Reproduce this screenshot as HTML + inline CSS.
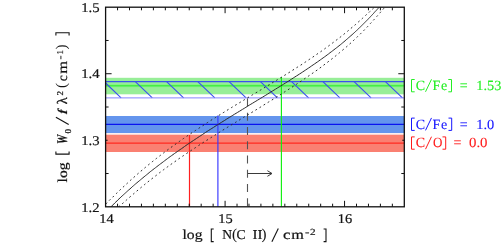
<!DOCTYPE html>
<html><head><meta charset="utf-8">
<style>
html,body{margin:0;padding:0;background:#fff;}
svg{display:block;}
text{font-family:"Liberation Serif",serif;text-rendering:geometricPrecision;}
</style></head>
<body>
<svg width="503" height="245" viewBox="0 0 503 245">
<rect width="503" height="245" fill="#fff"/>
<!-- bands -->
<rect x="105.6" y="77.8" width="298.70000000000005" height="16.5" fill="#98ee98"/>
<rect x="105.6" y="84.3" width="298.70000000000005" height="2.9" fill="#84f084"/><rect x="105.6" y="85.0" width="298.70000000000005" height="1.5" fill="#44f044"/>
<rect x="105.6" y="116" width="298.70000000000005" height="17.1" fill="#6495ed"/>
<rect x="105.6" y="133.1" width="298.70000000000005" height="1.6" fill="#fcefee"/>
<rect x="105.6" y="134.7" width="298.70000000000005" height="17.3" fill="#fa8072"/>
<line x1="105.6" x2="404.3" y1="124.4" y2="124.4" stroke="#0a14f0" stroke-width="1.2"/>
<line x1="105.6" x2="404.3" y1="143.1" y2="143.1" stroke="#ff2a20" stroke-width="1.2"/>
<!-- hatch -->
<g stroke="#3a50f0" stroke-width="1.1" fill="none">
<line x1="105.6" x2="404.3" y1="81.6" y2="81.6"/>
<path d="M105.6,83.0 L121.1,97.9 M135.3,81.6 L152.3,97.9 M166.6,81.6 L183.6,97.9 M197.8,81.6 L214.8,97.9 M229.1,81.6 L246.1,97.9 M260.4,81.6 L277.4,97.9 M291.6,81.6 L308.6,97.9 M322.9,81.6 L339.9,97.9 M354.1,81.6 L371.1,97.9 M385.4,81.6 L402.4,97.9"/>
</g>
<line x1="105.6" x2="404.3" y1="97.9" y2="97.9" stroke="#8484ff" stroke-width="1"/>
<!-- vertical lines -->
<line x1="189.5" x2="189.5" y1="135" y2="206.8" stroke="#ff2020" stroke-width="1.2"/>
<line x1="217.9" x2="217.9" y1="115.6" y2="206.8" stroke="#3838ff" stroke-width="1.15"/>
<line x1="281.4" x2="281.4" y1="77" y2="206.8" stroke="#10f010" stroke-width="1.15"/>
<line x1="247.5" x2="247.5" y1="98.4" y2="206.8" stroke="#555" stroke-width="1.1" stroke-dasharray="8 6.25"/>
<!-- arrow -->
<path d="M247.8,173.5 H272 M267.4,170.7 L272,173.5 L267.4,176.3" stroke="#3a3a3a" stroke-width="1" fill="none"/>
<!-- curves -->
<clipPath id="cp"><rect x="105.6" y="7.2" width="298.70000000000005" height="199.60000000000002"/></clipPath>
<g clip-path="url(#cp)">
<path d="M110.8,207.0 L111.8,206.0 L112.8,205.0 L113.8,204.0 L114.8,203.0 L115.9,202.0 L116.9,201.0 L117.9,199.9 L119.0,198.9 L120.1,197.9 L121.1,196.9 L122.2,195.9 L123.3,194.9 L124.4,193.9 L125.5,192.9 L126.6,191.9 L127.7,190.9 L128.8,189.9 L130.0,188.9 L131.1,187.9 L132.2,186.8 L133.4,185.8 L134.5,184.8 L135.7,183.8 L136.9,182.8 L138.1,181.8 L139.3,180.8 L140.5,179.8 L141.7,178.8 L142.9,177.8 L144.1,176.8 L145.3,175.8 L146.6,174.8 L147.8,173.8 L149.1,172.7 L150.3,171.7 L151.6,170.7 L152.9,169.7 L154.2,168.7 L155.5,167.7 L156.8,166.7 L158.1,165.7 L159.4,164.7 L160.7,163.7 L162.1,162.7 L163.4,161.7 L164.7,160.7 L166.1,159.6 L167.5,158.6 L168.8,157.6 L170.2,156.6 L171.6,155.6 L173.0,154.6 L174.4,153.6 L175.8,152.6 L177.2,151.6 L178.7,150.6 L180.1,149.6 L181.6,148.6 L183.0,147.6 L184.5,146.5 L185.9,145.5 L187.4,144.5 L188.9,143.5 L190.4,142.5 L191.9,141.5 L193.4,140.5 L194.9,139.5 L196.4,138.5 L197.9,137.5 L199.4,136.5 L201.0,135.5 L202.5,134.5 L204.1,133.4 L205.6,132.4 L207.2,131.4 L208.7,130.4 L210.3,129.4 L211.9,128.4 L213.5,127.4 L215.0,126.4 L216.6,125.4 L218.2,124.4 L219.8,123.4 L221.4,122.4 L223.0,121.4 L224.7,120.4 L226.3,119.3 L227.9,118.3 L229.5,117.3 L231.2,116.3 L232.8,115.3 L234.4,114.3 L236.1,113.3 L237.7,112.3 L239.4,111.3 L241.0,110.3 L242.6,109.3 L244.3,108.3 L245.9,107.3 L247.6,106.2 L249.2,105.2 L250.9,104.2 L252.6,103.2 L254.2,102.2 L255.9,101.2 L257.5,100.2 L259.2,99.2 L260.8,98.2 L262.5,97.2 L264.1,96.2 L265.8,95.2 L267.4,94.2 L269.1,93.1 L270.7,92.1 L272.3,91.1 L274.0,90.1 L275.6,89.1 L277.2,88.1 L278.9,87.1 L280.5,86.1 L282.1,85.1 L283.7,84.1 L285.3,83.1 L286.9,82.1 L288.5,81.1 L290.1,80.1 L291.7,79.0 L293.3,78.0 L294.8,77.0 L296.4,76.0 L298.0,75.0 L299.5,74.0 L301.1,73.0 L302.6,72.0 L304.1,71.0 L305.6,70.0 L307.1,69.0 L308.6,68.0 L310.1,67.0 L311.6,65.9 L313.1,64.9 L314.6,63.9 L316.0,62.9 L317.5,61.9 L318.9,60.9 L320.3,59.9 L321.7,58.9 L323.1,57.9 L324.5,56.9 L325.9,55.9 L327.2,54.9 L328.6,53.9 L329.9,52.8 L331.3,51.8 L332.6,50.8 L333.9,49.8 L335.2,48.8 L336.5,47.8 L337.8,46.8 L339.0,45.8 L340.3,44.8 L341.5,43.8 L342.7,42.8 L343.9,41.8 L345.1,40.8 L346.3,39.7 L347.5,38.7 L348.6,37.7 L349.8,36.7 L350.9,35.7 L352.1,34.7 L353.2,33.7 L354.3,32.7 L355.4,31.7 L356.4,30.7 L357.5,29.7 L358.6,28.7 L359.6,27.7 L360.6,26.7 L361.7,25.6 L362.7,24.6 L363.7,23.6 L364.7,22.6 L365.7,21.6 L366.7,20.6 L367.7,19.6 L368.6,18.6 L369.6,17.6 L370.5,16.6 L371.5,15.6 L372.4,14.6 L373.4,13.6 L374.3,12.5 L375.2,11.5 L376.2,10.5 L377.1,9.5 L378.0,8.5 L379.0,7.5 L379.9,6.5" stroke="#2a2a2a" stroke-width="1" fill="none"/>
<path d="M105.8,204.0 L106.7,203.0 L107.7,202.0 L108.7,201.0 L109.7,200.0 L110.7,199.0 L111.7,198.0 L112.8,197.1 L113.8,196.1 L114.8,195.1 L115.8,194.1 L116.8,193.1 L117.9,192.1 L118.9,191.1 L119.9,190.1 L121.0,189.1 L122.0,188.1 L123.1,187.1 L124.2,186.1 L125.2,185.1 L126.3,184.2 L127.4,183.2 L128.5,182.2 L129.5,181.2 L130.6,180.2 L131.7,179.2 L132.9,178.2 L134.0,177.2 L135.1,176.2 L136.2,175.2 L137.4,174.2 L138.5,173.2 L139.7,172.2 L140.8,171.2 L142.0,170.3 L143.1,169.3 L144.3,168.3 L145.5,167.3 L146.7,166.3 L147.9,165.3 L149.1,164.3 L150.3,163.3 L151.6,162.3 L152.8,161.3 L154.1,160.3 L155.3,159.3 L156.6,158.3 L157.8,157.4 L159.1,156.4 L160.4,155.4 L161.7,154.4 L163.0,153.4 L164.3,152.4 L165.6,151.4 L167.0,150.4 L168.3,149.4 L169.6,148.4 L171.0,147.4 L172.4,146.4 L173.7,145.4 L175.1,144.5 L176.5,143.5 L177.9,142.5 L179.3,141.5 L180.7,140.5 L182.1,139.5 L183.5,138.5 L185.0,137.5 L186.4,136.5 L187.9,135.5 L189.3,134.5 L190.8,133.5 L192.3,132.5 L193.8,131.6 L195.3,130.6 L196.8,129.6 L198.3,128.6 L199.8,127.6 L201.3,126.6 L202.8,125.6 L204.4,124.6 L205.9,123.6 L207.4,122.6 L209.0,121.6 L210.5,120.6 L212.1,119.6 L213.7,118.6 L215.3,117.7 L216.8,116.7 L218.4,115.7 L220.0,114.7 L221.6,113.7 L223.2,112.7 L224.8,111.7 L226.4,110.7 L228.0,109.7 L229.6,108.7 L231.3,107.7 L232.9,106.7 L234.5,105.7 L236.1,104.8 L237.8,103.8 L239.4,102.8 L241.0,101.8 L242.7,100.8 L244.3,99.8 L246.0,98.8 L247.6,97.8 L249.3,96.8 L250.9,95.8 L252.5,94.8 L254.2,93.8 L255.8,92.8 L257.5,91.9 L259.1,90.9 L260.8,89.9 L262.4,88.9 L264.0,87.9 L265.7,86.9 L267.3,85.9 L269.0,84.9 L270.6,83.9 L272.2,82.9 L273.8,81.9 L275.5,80.9 L277.1,79.9 L278.7,78.9 L280.3,78.0 L281.9,77.0 L283.5,76.0 L285.1,75.0 L286.7,74.0 L288.3,73.0 L289.9,72.0 L291.5,71.0 L293.0,70.0 L294.6,69.0 L296.1,68.0 L297.7,67.0 L299.2,66.0 L300.8,65.1 L302.3,64.1 L303.8,63.1 L305.3,62.1 L306.8,61.1 L308.3,60.1 L309.8,59.1 L311.3,58.1 L312.8,57.1 L314.2,56.1 L315.7,55.1 L317.1,54.1 L318.5,53.1 L320.0,52.2 L321.4,51.2 L322.8,50.2 L324.2,49.2 L325.5,48.2 L326.9,47.2 L328.3,46.2 L329.6,45.2 L331.0,44.2 L332.3,43.2 L333.6,42.2 L334.9,41.2 L336.2,40.2 L337.5,39.3 L338.8,38.3 L340.1,37.3 L341.3,36.3 L342.6,35.3 L343.8,34.3 L345.0,33.3 L346.3,32.3 L347.5,31.3 L348.7,30.3 L349.8,29.3 L351.0,28.3 L352.2,27.3 L353.4,26.3 L354.5,25.4 L355.7,24.4 L356.8,23.4 L357.9,22.4 L359.0,21.4 L360.2,20.4 L361.3,19.4 L362.4,18.4 L363.5,17.4 L364.5,16.4 L365.6,15.4 L366.7,14.4 L367.8,13.4 L368.9,12.5 L369.9,11.5 L371.0,10.5 L372.1,9.5 L373.1,8.5 L374.2,7.5 L375.2,6.5" stroke="#2a2a2a" stroke-width="1" fill="none" stroke-dasharray="1.8 3"/>
<path d="M118.6,207.0 L119.7,206.0 L120.9,205.0 L122.0,204.0 L123.1,203.0 L124.3,202.0 L125.4,201.0 L126.6,199.9 L127.7,198.9 L128.9,197.9 L130.0,196.9 L131.2,195.9 L132.3,194.9 L133.5,193.9 L134.7,192.9 L135.9,191.9 L137.0,190.9 L138.2,189.9 L139.4,188.9 L140.6,187.9 L141.9,186.8 L143.1,185.8 L144.3,184.8 L145.5,183.8 L146.8,182.8 L148.0,181.8 L149.3,180.8 L150.5,179.8 L151.8,178.8 L153.1,177.8 L154.4,176.8 L155.7,175.8 L157.0,174.8 L158.3,173.8 L159.6,172.7 L161.0,171.7 L162.3,170.7 L163.6,169.7 L165.0,168.7 L166.4,167.7 L167.7,166.7 L169.1,165.7 L170.5,164.7 L171.9,163.7 L173.3,162.7 L174.8,161.7 L176.2,160.7 L177.6,159.6 L179.1,158.6 L180.5,157.6 L182.0,156.6 L183.5,155.6 L184.9,154.6 L186.4,153.6 L187.9,152.6 L189.4,151.6 L190.9,150.6 L192.4,149.6 L194.0,148.6 L195.5,147.6 L197.0,146.5 L198.6,145.5 L200.1,144.5 L201.7,143.5 L203.2,142.5 L204.8,141.5 L206.4,140.5 L208.0,139.5 L209.6,138.5 L211.2,137.5 L212.7,136.5 L214.4,135.5 L216.0,134.5 L217.6,133.4 L219.2,132.4 L220.8,131.4 L222.4,130.4 L224.0,129.4 L225.7,128.4 L227.3,127.4 L228.9,126.4 L230.6,125.4 L232.2,124.4 L233.9,123.4 L235.5,122.4 L237.1,121.4 L238.8,120.4 L240.4,119.3 L242.1,118.3 L243.7,117.3 L245.4,116.3 L247.0,115.3 L248.7,114.3 L250.3,113.3 L252.0,112.3 L253.6,111.3 L255.3,110.3 L256.9,109.3 L258.5,108.3 L260.2,107.3 L261.8,106.2 L263.4,105.2 L265.1,104.2 L266.7,103.2 L268.3,102.2 L270.0,101.2 L271.6,100.2 L273.2,99.2 L274.8,98.2 L276.4,97.2 L278.0,96.2 L279.6,95.2 L281.2,94.2 L282.8,93.1 L284.3,92.1 L285.9,91.1 L287.5,90.1 L289.0,89.1 L290.6,88.1 L292.1,87.1 L293.7,86.1 L295.2,85.1 L296.7,84.1 L298.2,83.1 L299.7,82.1 L301.2,81.1 L302.7,80.1 L304.2,79.0 L305.7,78.0 L307.2,77.0 L308.6,76.0 L310.1,75.0 L311.5,74.0 L312.9,73.0 L314.4,72.0 L315.8,71.0 L317.2,70.0 L318.6,69.0 L319.9,68.0 L321.3,67.0 L322.7,65.9 L324.0,64.9 L325.4,63.9 L326.7,62.9 L328.0,61.9 L329.3,60.9 L330.6,59.9 L331.9,58.9 L333.2,57.9 L334.4,56.9 L335.7,55.9 L336.9,54.9 L338.2,53.9 L339.4,52.8 L340.6,51.8 L341.8,50.8 L343.0,49.8 L344.2,48.8 L345.3,47.8 L346.5,46.8 L347.7,45.8 L348.8,44.8 L349.9,43.8 L351.0,42.8 L352.1,41.8 L353.2,40.8 L354.3,39.7 L355.4,38.7 L356.4,37.7 L357.5,36.7 L358.5,35.7 L359.6,34.7 L360.6,33.7 L361.6,32.7 L362.6,31.7 L363.6,30.7 L364.6,29.7 L365.6,28.7 L366.5,27.7 L367.5,26.7 L368.5,25.6 L369.4,24.6 L370.3,23.6 L371.3,22.6 L372.2,21.6 L373.1,20.6 L374.0,19.6 L374.9,18.6 L375.8,17.6 L376.7,16.6 L377.6,15.6 L378.5,14.6 L379.4,13.6 L380.3,12.5 L381.1,11.5 L382.0,10.5 L382.9,9.5 L383.7,8.5 L384.6,7.5 L385.5,6.5" stroke="#2a2a2a" stroke-width="1" fill="none" stroke-dasharray="1.8 3"/>
</g>
<!-- frame -->
<rect x="105.6" y="7.2" width="298.70000000000005" height="199.60000000000002" fill="none" stroke="#111" stroke-width="1.3"/>
<path d="M117.55,206.8 v-3.1 M117.55,7.2 v3.1 M129.50,206.8 v-3.1 M129.50,7.2 v3.1 M141.44,206.8 v-3.1 M141.44,7.2 v3.1 M153.39,206.8 v-3.1 M153.39,7.2 v3.1 M165.34,206.8 v-3.1 M165.34,7.2 v3.1 M177.29,206.8 v-3.1 M177.29,7.2 v3.1 M189.24,206.8 v-3.1 M189.24,7.2 v3.1 M201.18,206.8 v-3.1 M201.18,7.2 v3.1 M213.13,206.8 v-3.1 M213.13,7.2 v3.1 M225.08,206.8 v-6 M225.08,7.2 v6 M237.03,206.8 v-3.1 M237.03,7.2 v3.1 M248.98,206.8 v-3.1 M248.98,7.2 v3.1 M260.92,206.8 v-3.1 M260.92,7.2 v3.1 M272.87,206.8 v-3.1 M272.87,7.2 v3.1 M284.82,206.8 v-3.1 M284.82,7.2 v3.1 M296.77,206.8 v-3.1 M296.77,7.2 v3.1 M308.72,206.8 v-3.1 M308.72,7.2 v3.1 M320.66,206.8 v-3.1 M320.66,7.2 v3.1 M332.61,206.8 v-3.1 M332.61,7.2 v3.1 M344.56,206.8 v-6 M344.56,7.2 v6 M356.51,206.8 v-3.1 M356.51,7.2 v3.1 M368.46,206.8 v-3.1 M368.46,7.2 v3.1 M380.40,206.8 v-3.1 M380.40,7.2 v3.1 M392.35,206.8 v-3.1 M392.35,7.2 v3.1 M105.6,173.53 h3 M404.3,173.53 h-3 M105.6,140.27 h2 M404.3,140.27 h-2 M105.6,107.00 h3 M404.3,107.00 h-3 M105.6,73.73 h6 M404.3,73.73 h-6 M105.6,40.47 h3 M404.3,40.47 h-3" stroke="#111" stroke-width="1" fill="none"/>
<g opacity="0.99">
<!-- tick labels -->
<g font-size="13.4" fill="#111" stroke="#111" stroke-width="0.2">
<text x="81.2" y="11.9" textLength="18.4" lengthAdjust="spacingAndGlyphs">1.5</text>
<text x="81.2" y="78.1" textLength="18.4" lengthAdjust="spacingAndGlyphs">1.4</text>
<text x="81.2" y="144.8" textLength="18.4" lengthAdjust="spacingAndGlyphs">1.3</text>
<text x="81.2" y="211.6" textLength="18.4" lengthAdjust="spacingAndGlyphs">1.2</text>
<text x="99.3" y="222.7" textLength="14.4" lengthAdjust="spacingAndGlyphs">14</text>
<text x="218.3" y="222.7" textLength="14.4" lengthAdjust="spacingAndGlyphs">15</text>
<text x="337.8" y="222.7" textLength="14.4" lengthAdjust="spacingAndGlyphs">16</text>
</g>
<!-- x label -->
<g transform="translate(0,239.2)" font-size="13.6" fill="#111" stroke="#111" stroke-width="0.2">
<text x="182.5" y="0" textLength="20" lengthAdjust="spacingAndGlyphs">log</text>
<path d="M213.7,-10.2 H211.3 V2.4 H213.7" fill="none" stroke-width="1.1"/>
<text x="222.2" y="0">N</text>
<text x="232.1" y="-0.5" font-size="15" stroke-width="0.05">(</text>
<text x="236.6" y="0">C</text>
<text x="252.6" y="0" textLength="10" lengthAdjust="spacingAndGlyphs">II</text>
<text x="261.4" y="-0.5" font-size="15" stroke-width="0.05">)</text>
<path d="M271.9,2.6 L278.3,-10.7" fill="none" stroke-width="1.1"/>
<text x="283.1" y="0" textLength="7.4" lengthAdjust="spacingAndGlyphs">c</text>
<text x="291.3" y="0" textLength="12.6" lengthAdjust="spacingAndGlyphs">m</text>
<text x="305" y="-4.6" font-size="9" textLength="4.4" lengthAdjust="spacingAndGlyphs">-</text>
<text x="309.9" y="-4.0" font-size="9.4" textLength="5.6" lengthAdjust="spacingAndGlyphs">2</text>
<path d="M323.6,-10.2 H326.0 V2.4 H323.6" fill="none" stroke-width="1.1"/>
</g>
<!-- y label -->
<g transform="translate(66.5,182) rotate(-90)" font-size="13.6" fill="#111" stroke="#111" stroke-width="0.2">
<text x="-0.4" y="0" textLength="20" lengthAdjust="spacingAndGlyphs">log</text>
<path d="M30.6,-10.6 H27.9 V2.6 H30.6" fill="none" stroke-width="1.1"/>
<text x="38.0" y="0" font-size="14.8" font-style="italic" font-weight="bold" textLength="9.3" lengthAdjust="spacingAndGlyphs">W</text>
<text x="48.4" y="4.2" font-size="9">0</text>
<path d="M57.5,2.2 L64.8,-10.6" fill="none" stroke-width="1.1"/>
<text x="0" y="0" font-weight="bold" font-size="13.5" transform="translate(67.6,0) skewX(-12)" textLength="4.2" lengthAdjust="spacingAndGlyphs">f</text>
<text x="77.8" y="0" font-size="14.4" stroke-width="0.3">λ</text>
<text x="86.5" y="-3.6" font-size="9">2</text>
<text x="93.9" y="-0.5" font-size="15" stroke-width="0.05">(</text>
<text x="100.8" y="0">c</text>
<text x="108.3" y="0" textLength="12.8" lengthAdjust="spacingAndGlyphs">m</text>
<text x="122.5" y="-3.6" font-size="9" textLength="4" lengthAdjust="spacingAndGlyphs">-</text>
<text x="127.6" y="-3.6" font-size="9">1</text>
<text x="132.5" y="-0.5" font-size="15" stroke-width="0.05">)</text>
<path d="M146.6,-10.6 H149.3 V2.6 H146.6" fill="none" stroke-width="1.1"/>
</g>
<!-- right labels -->
<g font-size="14" stroke-width="0.1">
<g fill="#22ee22" stroke="#22ee22" transform="translate(0,89.9)">
<path d="M414.7,-10.4 H411.5 V1.9 H414.7" fill="none" stroke-width="1"/>
<text x="415.8" y="0">C</text>
<path d="M425.5,1.9 L431.5,-10.6" fill="none" stroke-width="1"/>
<text x="432.6" y="0">F</text><text x="441" y="0">e</text>
<path d="M448.3,-10.4 H451.5 V1.9 H448.3" fill="none" stroke-width="1"/>
<text x="459.7" y="0">=</text>
<text x="476.3" y="0" textLength="25" lengthAdjust="spacingAndGlyphs">1.53</text>
</g>
<g fill="#1414ff" stroke="#1414ff" transform="translate(0,128.5)">
<path d="M414.7,-10.4 H411.5 V1.9 H414.7" fill="none" stroke-width="1"/>
<text x="415.8" y="0">C</text>
<path d="M425.5,1.9 L431.5,-10.6" fill="none" stroke-width="1"/>
<text x="432.6" y="0">F</text><text x="441" y="0">e</text>
<path d="M448.5,-10.4 H451.7 V1.9 H448.5" fill="none" stroke-width="1"/>
<text x="459.7" y="0">=</text>
<text x="476.3" y="0" textLength="18" lengthAdjust="spacingAndGlyphs">1.0</text>
</g>
<g fill="#ff1a1a" stroke="#ff1a1a" transform="translate(0,147.3)">
<path d="M414.7,-10.4 H411.5 V1.9 H414.7" fill="none" stroke-width="1"/>
<text x="415.8" y="0">C</text>
<path d="M425.5,1.9 L431.5,-10.6" fill="none" stroke-width="1"/>
<text x="432.9" y="0" textLength="9.4" lengthAdjust="spacingAndGlyphs">O</text>
<path d="M442.5,-10.4 H445.7 V1.9 H442.5" fill="none" stroke-width="1"/>
<text x="453.4" y="0">=</text>
<text x="469" y="0" textLength="18.5" lengthAdjust="spacingAndGlyphs">0.0</text>
</g>
</g>
</g>
</svg>
</body></html>
